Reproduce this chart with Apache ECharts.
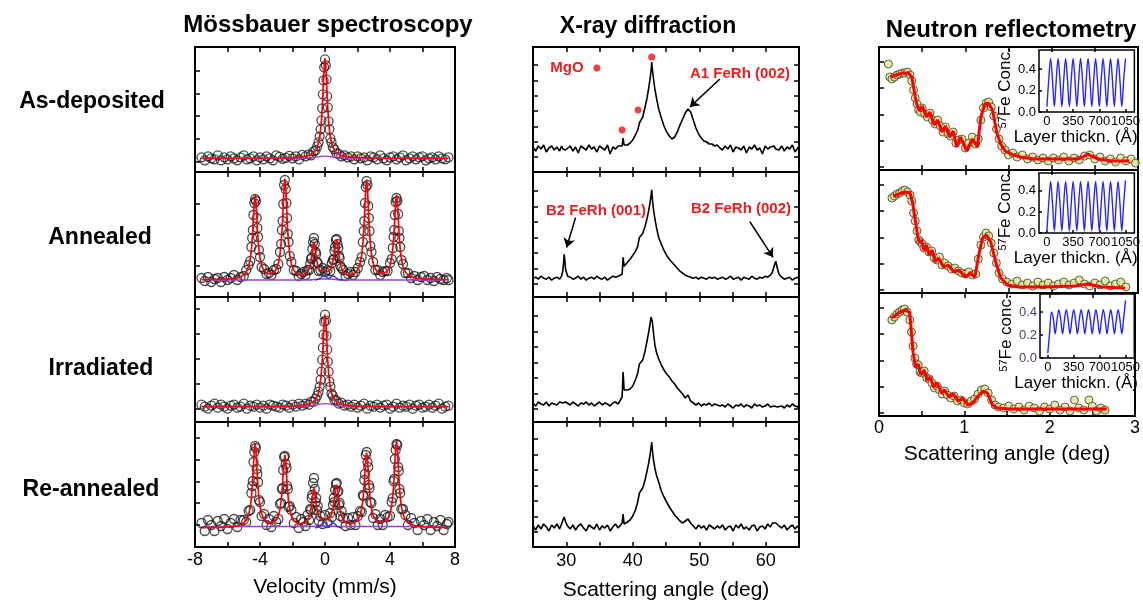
<!DOCTYPE html>
<html>
<head>
<meta charset="utf-8">
<script src="https://cdn.jsdelivr.net/npm/echarts@6/dist/echarts.min.js"></script>
<style>
html, body { margin: 0; padding: 0; background: #fff; }
#chart { width: 1143px; height: 604px; }
</style>
</head>
<body>
<div id="chart"></div>
<script>
const chart = echarts.init(document.getElementById('chart'));
const FONT = '"Liberation Sans", Arial, sans-serif';

// ---------- Mössbauer spectra (absorption, baseline = 0) ----------
const velSinglet = [-7.6,-7.4,-7.2,-7.0,-6.8,-6.6,-6.4,-6.2,-6.0,-5.8,-5.6,-5.4,-5.2,-5.0,-4.8,-4.6,-4.4,-4.2,-4.0,-3.8,-3.6,-3.4,-3.2,-3.0,-2.8,-2.6,-2.4,-2.2,-2.0,-1.8,-1.6,-1.4,-1.2,-1.0,-0.85,-0.7,-0.58,
  -0.48,-0.4,-0.33,-0.27,-0.22,-0.17,-0.13,-0.09,-0.05,0,0.05,0.09,0.13,0.17,0.22,0.27,0.33,0.4,0.48,
  0.58,0.7,0.85,1.0,1.2,1.4,1.6,1.8,2.0,2.2,2.4,2.6,2.8,3.0,3.2,3.4,3.6,3.8,4.0,4.2,4.4,4.6,4.8,5.0,5.2,5.4,5.6,5.8,6.0,6.2,6.4,6.6,6.8,7.0,7.2,7.4,7.6];

const asDepositedData = [0.01,-0.02,0.02,0,-0.01,0.03,-0.02,0.01,-0.01,0.02,0,-0.02,0.01,0.03,-0.01,0,0.02,-0.02,0.01,-0.01,0.02,0,-0.02,0.03,0.015,-0.005,0.005,0.025,0,0.02,-0.01,0.035,0.02,0.04,0.03,0.07,0.08,
  0.12,0.16,0.22,0.29,0.38,0.5,0.64,0.78,0.91,0.99,0.93,0.79,0.62,0.51,0.37,0.29,0.2,0.16,0.11,
  0.09,0.05,0.045,0.02,0.03,0.01,0.02,-0.01,0.02,0,0.01,-0.02,0.02,0.01,-0.01,0.03,0,-0.02,0.01,0.02,-0.01,0.01,0.03,-0.02,0,0.02,-0.01,0.01,0.02,-0.02,0,0.01,-0.01,0.02,0,-0.01,0.01];
const asDepositedFit = [[-7.6,0],[-3,0.003],[-2,0.007],[-1.4,0.015],[-1,0.028],[-0.7,0.056],[-0.5,0.104],[-0.4,0.153],[-0.3,0.243],[-0.22,0.374],[-0.17,0.5],[-0.12,0.667],[-0.08,0.819],[-0.04,0.948],[0,1.0],
  [0.04,0.948],[0.08,0.819],[0.12,0.667],[0.17,0.5],[0.22,0.374],[0.3,0.243],[0.4,0.153],[0.5,0.104],[0.7,0.056],[1,0.028],[1.4,0.015],[2,0.007],[3,0.003],[7.6,0]];
const asDepositedMinor = [[-7.6,0],[-1.5,0],[-0.8,0.006],[-0.3,0.018],[0,0.022],[0.3,0.018],[0.8,0.006],[1.5,0],[7.6,0]];

const irradiatedData = [0.02,0,-0.02,0.01,0.03,-0.01,0.02,0,-0.02,0.01,0.02,-0.01,0,0.03,-0.02,0.01,0,0.02,-0.01,0.01,-0.02,0.02,0.01,0,-0.01,0.02,0.01,-0.01,0.02,0,0.03,0.01,0.03,0.02,0.05,0.05,0.08,
  0.11,0.15,0.2,0.27,0.35,0.47,0.59,0.72,0.85,0.92,0.86,0.71,0.57,0.45,0.35,0.25,0.2,0.13,0.11,
  0.07,0.06,0.03,0.04,0.01,0.02,0,0.02,-0.01,0.01,0.03,-0.02,0.01,0,0.02,-0.01,0.01,0.02,-0.02,0,0.03,-0.01,0.01,0,0.02,-0.02,0.01,0.02,-0.01,0,0.02,-0.01,0.01,0.03,-0.02,0,0.01];
const irradiatedFit = [[-7.6,0],[-3,0.003],[-2,0.006],[-1.4,0.013],[-1,0.026],[-0.7,0.052],[-0.5,0.096],[-0.4,0.141],[-0.3,0.224],[-0.22,0.344],[-0.17,0.46],[-0.12,0.614],[-0.08,0.753],[-0.04,0.872],[0,0.92],
  [0.04,0.872],[0.08,0.753],[0.12,0.614],[0.17,0.46],[0.22,0.344],[0.3,0.224],[0.4,0.141],[0.5,0.096],[0.7,0.052],[1,0.026],[1.4,0.013],[2,0.006],[3,0.003],[7.6,0]];
const irradiatedMinor = [[-7.6,0],[-1.5,0],[-0.8,0.008],[-0.3,0.025],[0,0.03],[0.3,0.025],[0.8,0.008],[1.5,0],[7.6,0]];

const velSextet = [-7.6,-7.4,-7.2,-7.0,-6.8,-6.6,-6.4,-6.2,-6.0,-5.8,-5.6,-5.4,-5.2,-5.0,-4.85,
  -4.7,-4.6,-4.53,-4.48,-4.44,-4.4,-4.35,-4.3,-4.25,-4.2,-4.16,-4.12,-4.07,-4.0,-3.9,
  -3.75,-3.6,-3.45,-3.3,-3.15,-3.0,
  -2.87,-2.77,-2.7,-2.65,-2.61,-2.57,-2.52,-2.47,-2.42,-2.37,-2.33,-2.29,-2.24,-2.17,-2.07,
  -1.92,-1.77,-1.62,-1.47,-1.33,-1.2,
  -1.08,-0.98,-0.91,-0.86,-0.82,-0.78,-0.73,-0.68,-0.63,-0.58,-0.54,-0.5,-0.45,-0.38,-0.28,
  -0.15,0,0.15,
  0.32,0.42,0.49,0.54,0.58,0.62,0.67,0.72,0.77,0.82,0.86,0.9,0.95,1.02,1.12,
  1.27,1.42,1.57,1.72,1.87,2.02,
  2.16,2.26,2.33,2.38,2.42,2.46,2.51,2.56,2.61,2.66,2.7,2.74,2.79,2.86,2.96,
  3.1,3.25,3.4,3.55,3.7,3.85,
  4.0,4.1,4.17,4.22,4.26,4.3,4.35,4.4,4.45,4.5,4.54,4.58,4.63,4.7,4.8,
  4.95,5.1,5.3,5.5,5.7,5.9,6.1,6.3,6.5,6.7,6.9,7.1,7.3,7.5,7.6];

const annealedData = [0.02,-0.01,0.03,-0.02,0.01,0.02,-0.02,0.03,0,0.02,0.05,0,0.03,0.04,0.1,
  0.15,0.19,0.33,0.42,0.5,0.65,0.77,0.81,0.79,0.62,0.52,0.43,0.3,0.23,0.13,
  0.11,0.06,0.07,0.05,0.1,0.11,
  0.16,0.28,0.36,0.5,0.59,0.76,0.95,1.0,0.91,0.77,0.62,0.46,0.38,0.24,0.18,
  0.1,0.09,0.04,0.06,0.08,0.05,
  0.1,0.1,0.16,0.21,0.22,0.31,0.38,0.42,0.36,0.28,0.26,0.18,0.17,0.09,0.1,
  0.12,0.08,0.1,
  0.09,0.17,0.2,0.21,0.29,0.33,0.4,0.41,0.36,0.32,0.24,0.22,0.14,0.12,0.1,
  0.04,0.06,0.08,0.05,0.08,0.12,
  0.18,0.23,0.38,0.49,0.59,0.77,0.93,0.99,0.95,0.74,0.62,0.49,0.34,0.28,0.18,
  0.1,0.1,0.05,0.08,0.09,0.09,
  0.17,0.21,0.32,0.43,0.5,0.65,0.78,0.82,0.79,0.66,0.49,0.42,0.33,0.2,0.16,
  0.07,0.07,0.02,0.04,0,0.03,0.04,0,0.02,-0.01,0.03,0.01,0,0.02,0];
const annealedFit = [0.004,0.004,0.005,0.005,0.006,0.007,0.008,0.009,0.011,0.014,0.017,0.023,0.033,0.052,0.078,
  0.137,0.212,0.305,0.405,0.510,0.633,0.782,0.849,0.784,0.636,0.513,0.408,0.310,0.218,0.145,
  0.093,0.071,0.062,0.065,0.078,0.108,
  0.167,0.255,0.365,0.483,0.608,0.754,0.931,1.011,0.930,0.753,0.606,0.481,0.363,0.253,0.163,
  0.098,0.070,0.055,0.049,0.050,0.058,
  0.076,0.107,0.146,0.188,0.233,0.286,0.350,0.378,0.351,0.287,0.235,0.191,0.149,0.112,0.088,
  0.091,0.094,0.081,
  0.102,0.146,0.192,0.233,0.274,0.322,0.381,0.405,0.371,0.303,0.248,0.200,0.156,0.114,0.081,
  0.058,0.051,0.051,0.058,0.073,0.104,
  0.165,0.254,0.363,0.480,0.604,0.749,0.924,1.004,0.925,0.750,0.604,0.481,0.364,0.255,0.167,
  0.109,0.080,0.068,0.066,0.074,0.095,
  0.145,0.219,0.310,0.409,0.513,0.636,0.785,0.851,0.784,0.635,0.511,0.406,0.306,0.213,0.137,
  0.080,0.053,0.034,0.024,0.019,0.015,0.012,0.010,0.009,0.007,0.007,0.006,0.005,0.004,0.004];
const annealedMinor = [[-7.4,0],[-1,0],[-0.3,0.01],[0.3,0.01],[1,0],[7.4,0]];
const annealedDoublet = [[-0.6,0],[-0.3,0.015],[-0.05,0.05],[0.2,0.015],[0.5,0.04],[0.8,0.01],[1.1,0]];

const reannealedData = [0.05,-0.03,0.08,0.03,-0.03,0.07,0.02,0.09,-0.01,0.05,0.09,0.01,0.08,0.08,0.06,
  0.17,0.18,0.35,0.42,0.47,0.66,0.76,0.82,0.8,0.59,0.54,0.46,0.28,0.26,0.12,
  0.14,0.03,0.09,0.01,0.12,0.06,
  0.09,0.24,0.25,0.39,0.4,0.58,0.71,0.72,0.64,0.6,0.42,0.39,0.21,0.22,0.18,
  0.05,0.11,0,0.09,0.06,0.02,
  0.13,0.08,0.19,0.18,0.3,0.33,0.45,0.5,0.39,0.26,0.3,0.18,0.22,0.07,0.12,
  0.04,0.13,0.05,
  0.15,0.11,0.23,0.3,0.26,0.38,0.44,0.45,0.36,0.37,0.23,0.25,0.12,0.17,0.1,
  0.02,0.1,0.03,0.11,0.03,0.12,
  0.17,0.16,0.33,0.32,0.48,0.54,0.73,0.76,0.66,0.61,0.43,0.4,0.26,0.25,0.1,
  0.14,0.03,0.09,0.03,0.13,0.11,
  0.12,0.26,0.3,0.47,0.49,0.69,0.78,0.84,0.83,0.61,0.57,0.39,0.35,0.19,0.19,
  0.13,0.03,0.1,0.05,-0.02,0.07,0.03,0.09,-0.02,0.06,0.02,0.08,-0.02,0.04,0.06];
const reannealedFit = [0.004,0.004,0.005,0.005,0.006,0.007,0.007,0.008,0.01,0.013,0.016,0.022,0.032,0.051,0.077,
  0.134,0.209,0.302,0.402,0.507,0.630,0.779,0.846,0.781,0.633,0.510,0.405,0.307,0.215,0.142,
  0.087,0.064,0.054,0.054,0.062,0.082,
  0.124,0.187,0.266,0.351,0.441,0.546,0.673,0.731,0.673,0.545,0.439,0.349,0.264,0.185,0.120,
  0.073,0.054,0.045,0.042,0.045,0.054,
  0.075,0.109,0.151,0.195,0.243,0.298,0.366,0.396,0.367,0.301,0.246,0.199,0.155,0.116,0.090,
  0.091,0.094,0.082,
  0.105,0.151,0.200,0.245,0.289,0.342,0.406,0.432,0.396,0.323,0.262,0.211,0.163,0.118,0.081,
  0.056,0.047,0.045,0.048,0.059,0.081,
  0.127,0.193,0.275,0.362,0.454,0.563,0.694,0.754,0.695,0.564,0.455,0.363,0.276,0.195,0.129,
  0.087,0.067,0.059,0.060,0.070,0.092,
  0.145,0.221,0.315,0.416,0.523,0.649,0.801,0.869,0.800,0.648,0.521,0.413,0.312,0.217,0.139,
  0.081,0.053,0.034,0.024,0.018,0.014,0.012,0.010,0.008,0.007,0.006,0.005,0.005,0.004,0.004];
const reannealedMinor = [[-7.4,0.015],[-1,0.015],[0,0.02],[1,0.015],[7.4,0.015]];
const reannealedDoublet = [[-0.6,0],[-0.3,0.02],[-0.05,0.06],[0.2,0.02],[0.5,0.05],[0.8,0.01],[1.1,0]];

// ---------- X-ray diffraction (intensity a.u., baseline = 0) ----------
const twoTheta = [25.0,25.4,25.8,26.2,26.6,27.0,27.4,27.8,28.2,28.6,29.0,
  29.3,29.5,29.7,29.9,30.2,
  30.6,31.0,31.4,31.8,32.2,32.6,33.0,33.4,33.8,34.2,34.6,35.0,35.4,35.8,36.2,36.6,37.0,37.4,37.8,
  38.1,38.4,38.55,38.7,38.9,
  39.2,39.6,40.0,40.4,40.75,41.0,41.2,41.5,41.85,42.15,42.4,42.6,42.75,42.85,42.95,43.1,43.35,43.6,43.9,44.3,44.7,45.1,45.5,45.9,46.3,46.7,47.1,47.5,47.9,48.3,48.7,49.1,49.5,49.9,50.3,50.7,51.1,51.5,51.9,52.3,52.7,53.1,
  53.5,53.9,54.3,54.7,55.1,55.5,55.9,56.3,56.7,57.1,57.5,57.9,58.3,58.7,59.1,59.5,59.9,60.3,60.7,
  61.0,61.25,61.5,61.75,62.0,
  62.4,62.8,63.2,63.6,64.0,64.4,64.8,65.0];

const xrdAsDeposited = [1,-3,2,-1,3,-4,0,2,-2,1,-3,
  2,-1,1,-2,0,
  2,-3,1,-5,2,0,-2,3,-1,1,-4,2,0,-2,3,-6,1,-1,2,
  0,2,10,3,4,
  3,5,8,13,18,25,27,31,41,50,60,69,77,86,79,70,58,49,39,30,22,16,12,9,11,16,23,29,35,39,36,28,20,14,10,7,6,4,4,2,3,0,
  -2,2,-1,3,-4,1,0,-2,2,-5,1,-1,3,-2,0,-6,2,-1,1,
  0,2,-1,1,-2,
  2,-3,1,-1,3,-4,0,1];
const xrdAnnealed = [0,1,-1,2,0,-1,1,-2,0,1,-1,
  2,8,24,9,2,
  1,-1,0,2,-1,1,-2,0,1,-1,2,0,-1,1,-2,0,2,1,2,
  2,4,21,12,13,
  16,19,23,27,32,41,42,45,52,60,68,76,83,89,80,70,59,50,41,34,28,23,19,16,13,10,7,5,3,2,1,0,1,-1,1,0,-1,1,0,1,-1,0,
  1,-1,0,2,-1,0,1,-2,1,0,-1,2,0,-1,1,0,2,1,3,
  6,12,17,10,4,
  1,-1,0,1,-2,0,1,-1];
const xrdIrradiated = [1,-2,2,0,-1,2,-2,1,0,-1,2,
  0,1,-1,2,0,
  -1,2,0,-2,1,0,2,-1,1,-2,0,2,-1,1,0,-2,1,2,0,
  2,7,32,14,13,
  14,15,18,24,31,40,38,44,53,63,72,80,87,89,82,72,58,51,45,39,34,30,27,23,20,16,13,10,6,9,3,1,-1,1,-2,0,-1,1,-2,0,-1,-2,
  -1,-3,0,-2,-4,-1,-2,0,-3,-1,-2,-4,0,-2,-1,-3,-2,0,-3,
  -1,-2,0,-3,-1,
  -2,-4,-1,-3,0,-2,-3,-1];
const xrdReannealed = [1,-3,2,-2,3,0,-4,2,-1,3,-2,
  3,7,10,5,1,
  -2,2,-3,1,3,-1,-4,2,0,-2,3,-3,1,-1,2,-4,0,3,-1,
  1,4,13,3,4,
  5,7,11,17,25,34,35,39,47,56,64,72,79,85,77,68,58,51,45,36,30,25,20,16,12,9,6,4,6,8,4,1,-2,2,-1,1,-3,2,0,-2,1,-1,
  2,-3,0,1,-4,2,-1,3,-2,0,-3,1,2,-4,0,1,-2,3,0,
  4,5,4,2,1,
  -1,2,-3,0,2,-2,1,-1];
const mgoPeaks = [[42.85, 91], [40.8, 38], [38.4, 18], [34.6, 80]];
const a1Arrow = [[53.1, 69], [48.6, 41]];
const b2Arrow001 = [[31.4, 61], [30.05, 31]];
const b2Arrow002 = [[57.6, 57], [61.1, 21]];

// ---------- Neutron reflectometry (log reflectivity, a.u.) ----------
const nrAsDepositedData = [[0.108,106],[0.125,93],[0.15,91],[0.18,93],[0.21,95],[0.24,96],[0.27,97],[0.3,97],[0.33,98],[0.36,95],[0.38,89],[0.4,80],[0.42,72],[0.44,66],[0.46,60],[0.48,58],[0.5,62],[0.53,56],[0.56,53],[0.59,57],[0.62,50],[0.65,46],[0.68,50],[0.71,44],[0.74,38],[0.77,43],[0.8,36],[0.83,34],[0.86,38],[0.89,27],[0.92,30],[0.96,31],[1.0,22],[1.04,27],[1.08,33],[1.12,26],[1.15,31],[1.18,50],[1.21,62],[1.24,67],[1.27,68],[1.3,63],[1.33,54],[1.36,41],[1.39,31],[1.42,24],[1.46,20],[1.5,15],[1.55,17],[1.6,13],[1.66,15],[1.72,11],[1.78,13],[1.84,10],[1.9,12],[1.96,9],[2.02,12],[2.08,10],[2.14,13],[2.2,9],[2.26,12],[2.32,10],[2.38,14],[2.44,15],[2.5,11],[2.56,13],[2.62,9],[2.68,11],[2.74,8],[2.8,12],[2.86,9],[2.92,11],[2.97,7]];
const nrAsDepositedFit = [[0.14,93],[0.2,95],[0.28,97],[0.34,97],[0.38,93],[0.4,83],[0.42,73],[0.44,65],[0.47,59],[0.5,64],[0.55,53],[0.59,58],[0.64,45],[0.68,50],[0.73,38],[0.77,44],[0.82,33],[0.86,39],[0.9,23],[0.945,33],[1.015,19],[1.08,31],[1.14,23],[1.18,53],[1.225,66],[1.265,67],[1.315,60],[1.365,37],[1.41,26],[1.46,19],[1.51,17],[1.56,15],[1.64,13],[1.8,11],[2.1,11],[2.3,11],[2.36,13],[2.42,16],[2.48,13],[2.55,11],[2.7,9],[2.9,9]];
const nrAnnealedData = [[0.15,95],[0.18,97],[0.21,99],[0.24,100],[0.27,102],[0.3,103],[0.33,101],[0.36,98],[0.38,92],[0.4,80],[0.42,72],[0.44,62],[0.46,53],[0.48,51],[0.5,49],[0.52,45],[0.55,46],[0.58,41],[0.61,42],[0.64,35],[0.67,33],[0.7,36],[0.73,28],[0.76,30],[0.8,27],[0.84,24],[0.88,25],[0.92,22],[0.96,20],[1.0,19],[1.04,21],[1.08,18],[1.12,19],[1.15,34],[1.18,48],[1.21,56],[1.24,60],[1.27,57],[1.3,50],[1.33,40],[1.36,30],[1.39,20],[1.43,14],[1.48,11],[1.54,9],[1.6,12],[1.66,8],[1.72,10],[1.78,7],[1.84,11],[1.9,8],[1.96,10],[2.02,7],[2.08,9],[2.14,11],[2.2,8],[2.26,10],[2.32,13],[2.38,9],[2.44,7],[2.5,10],[2.56,8],[2.62,12],[2.68,7],[2.74,9],[2.8,11],[2.86,6]];
const nrAnnealedFit = [[0.167,97],[0.3,101],[0.36,100],[0.39,90],[0.42,73],[0.45,56],[0.47,50],[0.49,53],[0.52,43],[0.55,48],[0.58,38],[0.615,43],[0.65,31],[0.69,35],[0.75,26],[0.8,28],[0.87,21],[0.925,23],[1.0,16],[1.06,20],[1.11,16],[1.16,40],[1.2,55],[1.245,58],[1.295,51],[1.355,30],[1.41,15],[1.49,8],[1.61,6],[1.92,6],[2.27,7],[2.42,9],[2.58,6],[2.85,5]];
const nrIrradiatedData = [[0.15,96],[0.18,99],[0.21,102],[0.24,104],[0.27,106],[0.3,107],[0.33,104],[0.36,96],[0.38,84],[0.4,70],[0.42,58],[0.44,52],[0.46,51],[0.48,44],[0.5,43],[0.53,45],[0.56,38],[0.59,37],[0.62,33],[0.65,28],[0.68,30],[0.71,26],[0.74,22],[0.77,25],[0.8,21],[0.84,18],[0.88,20],[0.92,15],[0.96,16],[1.0,13],[1.04,12],[1.08,15],[1.12,17],[1.16,22],[1.2,26],[1.24,27],[1.28,23],[1.32,16],[1.36,11],[1.4,9],[1.46,8],[1.52,10],[1.58,7],[1.64,9],[1.7,6],[1.76,10],[1.82,8],[1.88,5],[1.94,9],[2.0,7],[2.06,11],[2.12,6],[2.18,9],[2.24,5],[2.29,16],[2.34,8],[2.4,6],[2.46,16],[2.5,10],[2.55,5],[2.6,8],[2.65,6]];
const nrIrradiatedFit = [[0.148,98],[0.245,104],[0.32,106],[0.36,103],[0.38,83],[0.4,63],[0.43,49],[0.46,52],[0.49,41],[0.53,46],[0.565,36],[0.6,39],[0.64,29],[0.68,33],[0.73,23],[0.77,26],[0.82,19],[0.87,22],[0.93,15],[0.98,18],[1.04,11],[1.1,13],[1.16,20],[1.22,25],[1.27,23],[1.33,11],[1.385,8],[1.52,7],[1.91,7],[2.3,7],[2.67,7]];

// 57Fe depth profiles (insets)
const depth = [0,25,50,75,100,125,150,175,200,225,250,275,300,325,350,375,400,425,450,475,500,525,550,575,600,625,650,675,700,725,750,775,800,825,850,875,900,925,950,975,1000,1025,1050];
const feAsDeposited = [0.05,0.3,0.5,0.3,0.05,0.3,0.5,0.3,0.05,0.3,0.5,0.3,0.05,0.3,0.5,0.3,0.05,0.3,0.5,0.3,0.05,0.3,0.5,0.3,0.05,0.3,0.5,0.3,0.05,0.3,0.5,0.3,0.05,0.3,0.5,0.3,0.05,0.3,0.5,0.3,0.05,0.3,0.5];
const feAnnealed = [0.02,0.28,0.49,0.28,0.02,0.28,0.49,0.28,0.02,0.28,0.49,0.28,0.02,0.28,0.49,0.28,0.02,0.28,0.49,0.28,0.02,0.28,0.49,0.28,0.02,0.28,0.49,0.28,0.02,0.28,0.49,0.28,0.02,0.28,0.49,0.28,0.02,0.28,0.49,0.28,0.02,0.28,0.5];
const feIrradiated = [0.04,0.22,0.4,0.34,0.21,0.33,0.42,0.33,0.21,0.33,0.42,0.33,0.21,0.33,0.42,0.33,0.21,0.33,0.42,0.33,0.21,0.33,0.42,0.33,0.21,0.33,0.42,0.33,0.21,0.33,0.42,0.33,0.21,0.33,0.42,0.33,0.21,0.33,0.42,0.33,0.21,0.35,0.5];

// ---------- helpers ----------
const grid = [], xAxis = [], yAxis = [], series = [];
const tick = { inside: true, length: 5, lineStyle: { color: '#000', width: 1.5 } };
const noLine = { show: false, onZero: false };
function zip(xs, ys) { return xs.map((x, i) => [x, ys[i]]); }
function steps(a, b, d) { const out = []; for (let v = a; v <= b + 1e-9; v += d) out.push(+v.toFixed(4)); return out; }

function panel(box, xr, yr, o) {
  const gi = grid.length;
  grid.push({ left: box[0], top: box[1], width: box[2], height: box[3], show: true,
    borderColor: '#000', borderWidth: o.border || 2, backgroundColor: '#fff' });
  const xi = xAxis.length;
  xAxis.push({
    type: 'value', gridIndex: gi, min: xr[0], max: xr[1], position: 'bottom',
    axisLine: noLine, splitLine: { show: false },
    axisTick: Object.assign({}, tick, { show: !!o.xTicks, customValues: o.xTicks, length: o.tickLen || 5 }),
    axisLabel: o.xLabels ? { customValues: o.xLabels, color: '#000', fontSize: o.labelSize || 18,
      margin: o.labelMargin || 4, fontFamily: FONT, showMinLabel: true, showMaxLabel: true, hideOverlap: false,
      formatter: v => String(v) } : { show: false },
    name: o.xName || '', nameLocation: 'middle', nameGap: o.xNameGap || 30,
    nameTextStyle: Object.assign({ color: '#000', fontSize: o.nameSize || 21, fontFamily: FONT }, o.xNameStyle || {})
  });
  if (o.topTicks) {
    xAxis.push({ type: 'value', gridIndex: gi, min: xr[0], max: xr[1], position: 'top',
      axisLine: noLine, splitLine: { show: false }, axisLabel: { show: false },
      axisTick: Object.assign({}, tick, { customValues: o.topTicks }) });
  }
  const yi = yAxis.length;
  yAxis.push({
    type: 'value', gridIndex: gi, min: yr[0], max: yr[1], position: 'left',
    axisLine: noLine, splitLine: { show: false },
    axisTick: Object.assign({}, tick, { show: !!o.yTicks, customValues: o.yTicks, length: o.tickLen || 5 }),
    axisLabel: o.yLabels ? { customValues: o.yLabels, color: o.yLabelColor || '#000', fontSize: o.labelSize || 18,
      margin: o.labelMargin || 4, fontFamily: FONT, showMinLabel: true, showMaxLabel: true,
      formatter: v => v.toFixed(1) } : { show: false },
    name: o.yName || '', nameLocation: 'middle', nameGap: o.yNameGap || 20,
    nameTextStyle: o.yNameStyle || {}
  });
  if (o.rightTicks) {
    yAxis.push({ type: 'value', gridIndex: gi, min: yr[0], max: yr[1], position: 'right',
      axisLine: noLine, splitLine: { show: false }, axisLabel: { show: false },
      axisTick: Object.assign({}, tick, { customValues: o.rightTicks }) });
  }
  return { xAxisIndex: xi, yAxisIndex: yi };
}

function circles(ax, data, fill, stroke, size, bw) {
  series.push(Object.assign({ type: 'scatter', data: data, symbol: 'circle', symbolSize: size || 8, silent: true, z: 2,
    itemStyle: { color: fill, borderColor: stroke, borderWidth: bw || 1 } }, ax));
}
function curve(ax, data, color, width, z, smooth) {
  series.push(Object.assign({ type: 'line', data: data, showSymbol: false, silent: true, z: z || 4,
    smooth: smooth || false, lineStyle: { color: color, width: width } }, ax));
}

// ---------- Mössbauer column ----------
const mbX = [-8, 8];
const mbTicks = [-6, -4, -2, 0, 2, 4, 6];
const mbPanels = [
  { y: [-0.137, 1.113], ticks: steps(-0.03, 1.0, 0.226), data: zip(velSinglet, asDepositedData), fit: asDepositedFit, minor: asDepositedMinor },
  { y: [-0.17, 1.08], ticks: steps(0.14, 1.0, 0.31), data: zip(velSextet, annealedData), fit: zip(velSextet, annealedFit), minor: annealedMinor, doublet: annealedDoublet },
  { y: [-0.153, 1.097], ticks: steps(-0.023, 1.0, 0.25), data: zip(velSinglet, irradiatedData), fit: irradiatedFit, minor: irradiatedMinor },
  { y: [-0.19, 1.06], ticks: steps(0.033, 1.0, 0.217), data: zip(velSextet, reannealedData), fit: zip(velSextet, reannealedFit), minor: reannealedMinor, doublet: reannealedDoublet }
];
mbPanels.forEach((p, i) => {
  const last = i === mbPanels.length - 1;
  const ax = panel([195, 47 + 125 * i, 260, 125], mbX, p.y, {
    xTicks: mbTicks, topTicks: mbTicks, yTicks: p.ticks,
    xLabels: last ? [-8, -4, 0, 4, 8] : null, labelMargin: 4,
    xName: last ? 'Velocity (mm/s)' : '', xNameGap: 30
  });
  circles(ax, p.data, 'rgba(255,255,255,0)', '#1c1c1c', 9, 1.3);
  curve(ax, p.minor, '#9a3fd6', 1.3, 3, 0.4);
  if (p.doublet) curve(ax, p.doublet, '#2b2bd6', 1.3, 3, 0.4);
  curve(ax, p.fit, '#ff0000', 1.7, 4);
});

// ---------- XRD column ----------
const xrdX = [25, 65];
const xrdTicks = [30, 35, 40, 45, 50, 55, 60];
const xrdPanels = [
  { y: [-24, 101], ticks: steps(-9, 95, 15.3), data: xrdAsDeposited },
  { y: [-19, 107], ticks: steps(-6, 100, 15.6), data: xrdAnnealed },
  { y: [-18, 107], ticks: steps(-5, 100, 15.5), data: xrdIrradiated },
  { y: [-20, 105], ticks: steps(-5, 100, 15.5), data: xrdReannealed }
];
const xrdAxes = xrdPanels.map((p, i) => {
  const last = i === xrdPanels.length - 1;
  const ax = panel([533, 47 + 125 * i, 266, 125], xrdX, p.y, {
    xTicks: xrdTicks, topTicks: xrdTicks, yTicks: p.ticks, rightTicks: p.ticks,
    xLabels: last ? [30, 40, 50, 60] : null, labelMargin: 5,
    xName: last ? 'Scattering angle (deg)' : '', xNameGap: 33
  });
  series.push(Object.assign({ type: 'line', data: zip(twoTheta, p.data), showSymbol: false, silent: true, z: 4,
    lineStyle: { color: '#000', width: 1.6 } }, ax));
  return ax;
});
const arrowStyle = { silent: true, symbol: ['none', 'arrow'], symbolSize: 9, label: { show: false },
  lineStyle: { color: '#000', width: 1.6, type: 'solid' } };
series.push(Object.assign({ type: 'scatter', data: mgoPeaks, symbolSize: 7, silent: true, z: 5,
  itemStyle: { color: '#ee1111' },
  markLine: Object.assign({ data: [[{ coord: a1Arrow[0] }, { coord: a1Arrow[1] }]] }, arrowStyle) }, xrdAxes[0]));
series.push(Object.assign({ type: 'scatter', data: [], silent: true,
  markLine: Object.assign({ data: [[{ coord: b2Arrow001[0] }, { coord: b2Arrow001[1] }], [{ coord: b2Arrow002[0] }, { coord: b2Arrow002[1] }]] }, arrowStyle) }, xrdAxes[1]));

// ---------- Neutron reflectometry column ----------
const nrX = [0, 3];
const nrTicks = [0.5, 1, 1.5, 2, 2.5];
const nrPanels = [
  { data: nrAsDepositedData, fit: nrAsDepositedFit, fe: feAsDeposited, inset: [1039, 50, 98, 62], insetY: [0, 0.58], feName: 'Fe Conc.' },
  { data: nrAnnealedData, fit: nrAnnealedFit, fe: feAnnealed, inset: [1039, 173, 98, 60], insetY: [0, 0.57], feName: 'Fe Conc.' },
  { data: nrIrradiatedData, fit: nrIrradiatedFit, fe: feIrradiated, inset: [1040, 294, 97, 64], insetY: [0, 0.556], feName: 'Fe conc.', labelColor: '#4f3a63' }
];
nrPanels.forEach((p, i) => {
  const last = i === nrPanels.length - 1;
  const ax = panel([879, 47 + 123 * i, 259, 123], nrX, [0, 123], {
    xTicks: nrTicks, topTicks: nrTicks, yTicks: steps(3, 112, 26.3),
    xLabels: last ? [0, 1, 2, 3] : null, labelMargin: 3,
    xName: last ? 'Scattering angle (deg)' : '', xNameGap: 28
  });
  circles(ax, p.data, '#e4e48e', '#3b3b26');
  curve(ax, p.fit, '#ff0000', 3, 4);
});
nrPanels.forEach(p => {
  const ax = panel(p.inset, [-105, 1168], p.insetY, {
    border: 1.5, tickLen: 3,
    xTicks: [0, 350, 700, 1050], yTicks: [0, 0.2, 0.4],
    xLabels: [0, 350, 700, 1050], yLabels: [0, 0.2, 0.4], yLabelColor: p.labelColor,
    labelSize: 13, labelMargin: 3,
    xName: 'Layer thickn. (Å)', xNameGap: 17, nameSize: 17, xNameStyle: { padding: [0, 22, 0, 0] },
    yName: '{sup|57}{main|' + p.feName + '}', yNameGap: 21,
    yNameStyle: { color: '#000', padding: [0, 14, 0, 0], rich: {
      sup: { fontSize: 11, fontFamily: FONT, color: '#000', verticalAlign: 'top', lineHeight: 17 },
      main: { fontSize: 17, fontFamily: FONT, color: '#000', lineHeight: 17 } } }
  });
  curve(ax, zip(depth, p.fe), '#2626ff', 1.4, 6, 0.35);
});

// ---------- text ----------
function label(text, x, y, size, weight, color) {
  return { type: 'text', x: x, y: y, silent: true, z: 20, style: { text: text, fill: color || '#000', fontSize: size,
    fontWeight: weight || 'normal', fontFamily: FONT, align: 'center', verticalAlign: 'middle' } };
}
const graphic = [
  label('Mössbauer spectroscopy', 328, 25, 24, 'bold'),
  label('X-ray diffraction', 648, 27, 23, 'bold'),
  label('Neutron reflectometry', 1011, 30, 24, 'bold'),
  label('As-deposited', 92, 102, 23, 'bold'),
  label('Annealed', 100, 238, 23, 'bold'),
  label('Irradiated', 101, 369, 23, 'bold'),
  label('Re-annealed', 91, 490, 23, 'bold'),
  label('MgO', 567, 68, 15, 'bold', '#ee1c1c'),
  label('A1 FeRh (002)', 740, 74, 15, 'bold', '#ee1c1c'),
  label('B2 FeRh (001)', 596, 211, 15, 'bold', '#ee1c1c'),
  label('B2 FeRh (002)', 741, 209, 15, 'bold', '#ee1c1c')
];

chart.setOption({
  animation: false,
  backgroundColor: '#fff',
  textStyle: { fontFamily: FONT },
  grid: grid,
  xAxis: xAxis,
  yAxis: yAxis,
  series: series,
  graphic: graphic
});
</script>
</body>
</html>
